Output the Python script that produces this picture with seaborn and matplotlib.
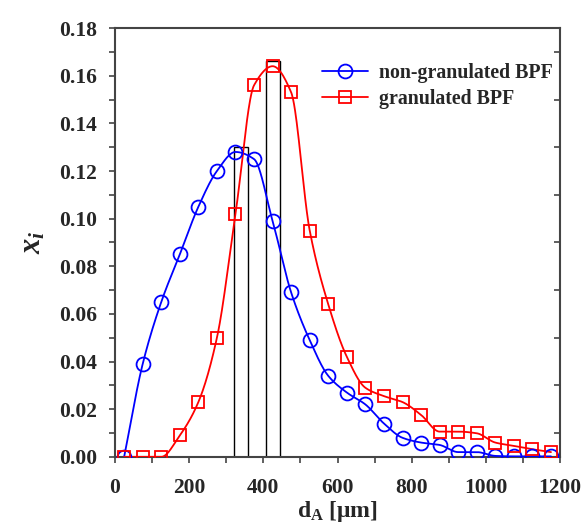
import numpy as np
import pandas as pd
import matplotlib
matplotlib.use("Agg")
import matplotlib.pyplot as plt
from matplotlib.lines import Line2D
from matplotlib.ticker import MultipleLocator, FormatStrFormatter
import seaborn as sns

# particle size classes (class mid-points, um)
d_mid = [25, 75, 125, 175, 225, 275, 325, 375, 425, 475, 525, 575,
         625, 675, 725, 775, 825, 875, 925, 975, 1025, 1075, 1125, 1175]

x_nongran = [0.000, 0.039, 0.065, 0.085, 0.105, 0.120, 0.128, 0.125,
             0.099, 0.069, 0.049, 0.034, 0.027, 0.022, 0.014, 0.008,
             0.006, 0.005, 0.002, 0.002, 0.0004, 0.0002, 0.0002, 0.0002]

x_gran = [0.000, 0.000, 0.000, 0.009, 0.023, 0.050, 0.102, 0.156,
          0.164, 0.153, 0.095, 0.064, 0.042, 0.029, 0.0255, 0.023,
          0.0176, 0.0106, 0.0106, 0.0099, 0.006, 0.0046, 0.0032, 0.002]

# mode markers (narrow boxes)
mode_center = [340, 426]
mode_height = [0.130, 0.166]
mode_width = 37

xtick_vals = [0, 200, 400, 600, 800, 1000, 1200]


def pchip(x, y, xn):
    x = np.asarray(x, float)
    y = np.asarray(y, float)
    h = np.diff(x)
    delta = np.diff(y) / h
    n = len(x)
    d = np.zeros(n)
    for k in range(1, n - 1):
        if delta[k - 1] * delta[k] > 0:
            w1 = 2 * h[k] + h[k - 1]
            w2 = h[k] + 2 * h[k - 1]
            d[k] = (w1 + w2) / (w1 / delta[k - 1] + w2 / delta[k])
    d[0] = delta[0]
    d[-1] = delta[-1]
    idx = np.clip(np.searchsorted(x, xn) - 1, 0, n - 2)
    t = (xn - x[idx]) / h[idx]
    h00 = 2 * t**3 - 3 * t**2 + 1
    h10 = t**3 - 2 * t**2 + t
    h01 = -2 * t**3 + 3 * t**2
    h11 = t**3 - t**2
    return (h00 * y[idx] + h10 * h[idx] * d[idx] + h01 * y[idx + 1]
            + h11 * h[idx] * d[idx + 1])


sns.set_style("ticks")
plt.rcParams['font.family'] = ['Liberation Serif', 'DejaVu Serif']
plt.rcParams['font.weight'] = 'bold'
plt.rcParams['mathtext.fontset'] = 'custom'
plt.rcParams['mathtext.rm'] = 'Liberation Serif:bold'
plt.rcParams['mathtext.it'] = 'Liberation Serif:bold:italic'

df = pd.DataFrame({'d': d_mid, 'non-granulated BPF': x_nongran,
                   'granulated BPF': x_gran})

fig = plt.figure(figsize=(5.83, 5.30), dpi=100)
ax = fig.add_axes([0.197, 0.138, 0.764, 0.809])

spine_c = '#444444'
blue = '#0000ff'
red = '#ff0000'

# mode boxes
ax.bar(mode_center, mode_height, width=mode_width, fill=False,
       edgecolor='black', linewidth=1.0, zorder=2)

xs = np.linspace(min(d_mid), max(d_mid), 800)
for col, colour, mk, ms in [('non-granulated BPF', blue, 'o', 10),
                            ('granulated BPF', red, 's', 9)]:
    ax.plot(xs, pchip(df['d'], df[col], xs), color=colour, lw=1.3, zorder=3)
    sns.lineplot(data=df, x='d', y=col, ax=ax, color=colour, marker=mk,
                 markersize=ms, markerfacecolor='none',
                 markeredgecolor=colour, markeredgewidth=1.3,
                 linestyle='', zorder=4, legend=False)

ax.set_xlim(0, 1200)
ax.set_ylim(0, 0.18)
ax.set_xticks(xtick_vals)
ax.xaxis.set_minor_locator(MultipleLocator(100))
ax.yaxis.set_major_locator(MultipleLocator(0.02))
ax.yaxis.set_minor_locator(MultipleLocator(0.01))
ax.yaxis.set_major_formatter(FormatStrFormatter('%.2f'))
ax.tick_params(which='both', direction='out', length=4, width=1.2,
               color=spine_c, labelsize=15.5, right=False, top=False)
ax.tick_params(axis='x', which='major', pad=11)
ax.tick_params(axis='y', which='major', pad=9)
for lab in ax.get_xticklabels() + ax.get_yticklabels():
    lab.set_fontweight('bold')

for s in ax.spines.values():
    s.set_color(spine_c)
    s.set_linewidth(1.5)

# right-side inner ticks
axr = ax.twinx()
axr.set_ylim(0, 0.18)
axr.set_yticks(np.arange(0.01, 0.18, 0.02))
axr.tick_params(axis='y', direction='in', length=4, width=1.2,
                color=spine_c, labelright=False)
for s in axr.spines.values():
    s.set_visible(False)

ax.set_xlabel(r'd$_\mathregular{A}$ [$\mathregular{\mu}$m]', fontsize=17,
              fontweight='bold', labelpad=1)
ax.set_ylabel(r'$x_i$', fontsize=22, labelpad=8)

handles = [Line2D([], [], color=blue, lw=1.3, marker='o', markersize=10,
                  markerfacecolor='none', markeredgewidth=1.3),
           Line2D([], [], color=red, lw=1.3, marker='s', markersize=9,
                  markerfacecolor='none', markeredgewidth=1.3)]
ax.legend(handles, ['non-granulated BPF', 'granulated BPF'],
          loc='upper left', bbox_to_anchor=(0.465, 0.918), frameon=False,
          prop={'weight': 'bold', 'size': 14.3}, handlelength=2.3,
          handletextpad=0.55, labelspacing=0.3, borderpad=0,
          borderaxespad=0)

fig.savefig('out.png', dpi=100, facecolor='white')
